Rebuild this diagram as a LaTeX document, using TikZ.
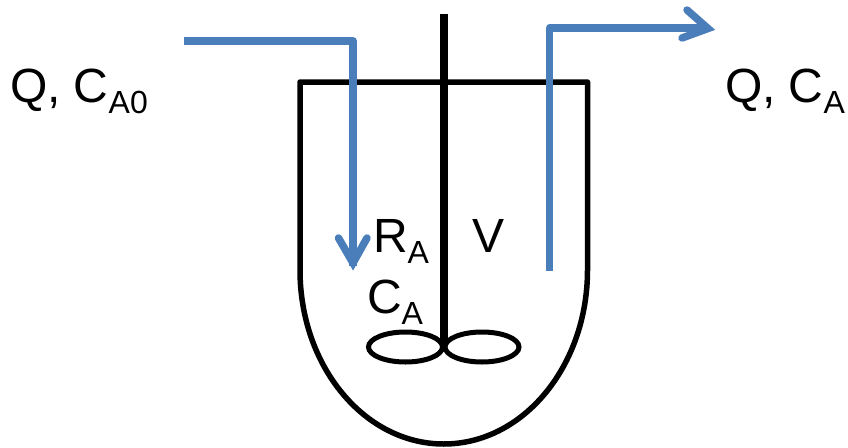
\documentclass[tikz,border=0pt]{standalone}
\usepackage{fontspec}
\setmainfont{Liberation Sans}
\newcommand{\subtxt}[1]{\raisebox{-11pt}{\fontsize{32}{34}\selectfont #1}}
\tikzset{
  x=1pt,y=-1pt,
  vessel/.style={draw=black,line width=5.5pt,line join=round},
  shaft/.style={draw=black,line width=8pt},
  blade/.style={draw=black,line width=5pt},
  pipe/.style={draw=flow,line width=7.5pt,line join=round},
  tip/.style={draw=flow,line width=7.5pt,line join=miter,miter limit=10,line cap=round},
  lab/.style={anchor=base west,inner sep=0pt,outer sep=0pt,font=\fontsize{48}{50}\selectfont}
}
\definecolor{flow}{HTML}{4A7EBB}
\begin{document}
\begin{tikzpicture}
\useasboundingbox (0,0) rectangle (848,447);
% vessel
\draw[vessel] (300,270) -- (300,82) -- (587.5,82) -- (587.5,270)
  arc[start angle=0,end angle=180,x radius=143.75,y radius=174];
% stirrer
\coordinate (shaftTop) at (444,14);
\coordinate (hub) at (444,346);
\draw[shaft] (shaftTop) -- (hub);
\draw[blade] (405.5,347) ellipse[x radius=37,y radius=15];
\draw[blade] (482,347) ellipse[x radius=37,y radius=15];
% inlet
\coordinate (inStart) at (184,41);
\coordinate (inCorner) at (353,41);
\coordinate (inTip) at (353,266);
\draw[pipe] (inStart) -- (inCorner) -- (inTip);
\draw[tip] (338.5,238) -- (353,263) -- (367,238);
% outlet
\coordinate (outStart) at (549.5,271);
\coordinate (outCorner) at (549.5,28);
\coordinate (outTip) at (708,28);
\draw[pipe] (outStart) -- (outCorner) -- (outTip);
\draw[tip] (687,10) -- (708,28.5) -- (682,38);
% labels
\node[lab] (feed) at (10,102) {Q, C\subtxt{A0}};
\node[lab] (prod) at (725,102) {Q, C\subtxt{A}};
\node[lab] (rate) at (373,252) {R\subtxt{A}};
\node[lab] (conc) at (367,313) {C\subtxt{A}};
\node[lab] (vol) at (472,252) {V};
\end{tikzpicture}
\end{document}
